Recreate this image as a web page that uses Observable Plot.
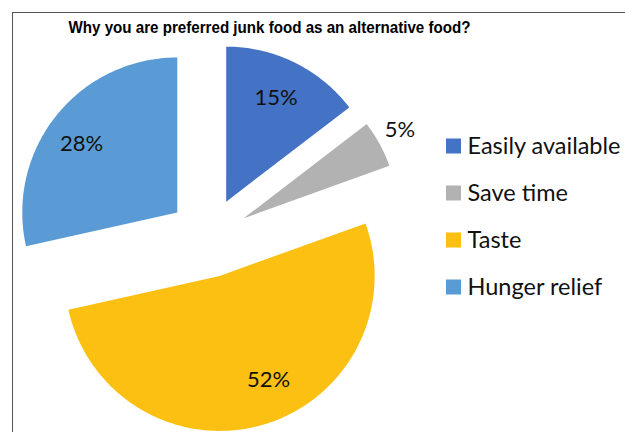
<!DOCTYPE html>
<html><head><meta charset="utf-8">
<script src="https://cdn.jsdelivr.net/npm/d3@7"></script>
<script src="https://cdn.jsdelivr.net/npm/@observablehq/plot@0.6"></script>
<style>
html,body{margin:0;padding:0;background:#fff;width:625px;height:432px;overflow:hidden}
#frame{position:absolute;left:12px;top:12px;width:700px;height:500px;border-left:1px solid #555;border-top:1px solid #555}
#chart{position:absolute;left:0;top:0}
</style></head><body><div id="frame"></div><div id="chart"></div>
<script>
const title = "Why you are preferred junk food as an alternative food?";
const categories = ["Easily available", "Save time", "Taste", "Hunger relief"];
const values = [14.6, 4.9, 52.0, 28.5];
const colors = ["#4472C4", "#B2B2B2", "#FCC013", "#5B9BD5"];

// layout
const W = 625, H = 432;
const cx = 208, cy = 237, R = 155, explode = 40;
const labelDist = [0.74, 1.16, 0.74, 0.76];
const labelShift = [-0.5, -1, -9, -3];

const total = d3.sum(values);
const deg = Math.PI / 180;
const pts = [];
const labs = [];
let acc = 0;
categories.forEach((c, i) => {
  const a0 = acc / total * 360;
  acc += values[i];
  const a1 = acc / total * 360;
  const mid = (a0 + a1) / 2;
  const ox = cx + explode * Math.sin(mid * deg);
  const oy = cy - explode * Math.cos(mid * deg);
  pts.push({c, x: ox, y: oy});
  const n = Math.max(4, Math.ceil(a1 - a0));
  for (let k = 0; k <= n; k++) {
    const a = (a0 + (a1 - a0) * k / n) * deg;
    pts.push({c, x: ox + R * Math.sin(a), y: oy - R * Math.cos(a)});
  }
  pts.push({c, x: ox, y: oy});
  const la = (mid + labelShift[i]) * deg;
  labs.push({c, text: Math.round(values[i] / total * 100) + "%", x: ox + R * labelDist[i] * Math.sin(la), y: oy - R * labelDist[i] * Math.cos(la)});
});

const legX = 446, legSq = 15, legY0 = 146, legDY = 47, legTX = 467;
const legend = categories.map((c, i) => ({c, y: legY0 + i * legDY}));

const chart = Plot.plot({
  width: W, height: H, margin: 0,
  style: {background: "transparent"},
  x: {domain: [0, W], range: [0, W], axis: null},
  y: {domain: [0, H], range: [0, H], axis: null},
  color: {domain: categories, range: colors},
  marks: [
    Plot.line(pts, {x: "x", y: "y", z: "c", fill: "c", stroke: "none", curve: "linear"}),
    Plot.text(labs, {x: "x", y: "y", text: "text", fontSize: 22, fontFamily: "Lato", fill: "#111"}),
    Plot.rect(legend, {x1: () => legX, x2: () => legX + legSq, y1: d => d.y - legSq / 2, y2: d => d.y + legSq / 2, fill: "c"}),
    Plot.text(legend, {x: () => legTX, y: "y", text: "c", textAnchor: "start", fontSize: 23.5, fontFamily: "Lato", fill: "#111"}),
    Plot.text([title], {x: () => 269, y: () => 27, text: d => d, fontSize: 17, fontWeight: "bold", fontFamily: "Liberation Sans", fill: "#000", className: "ttl"})
  ]
});
document.getElementById("chart").appendChild(chart);
chart.querySelectorAll(".ttl text").forEach(t => {
  t.setAttribute("textLength", 402);
  t.setAttribute("lengthAdjust", "spacingAndGlyphs");
});
</script></body></html>
